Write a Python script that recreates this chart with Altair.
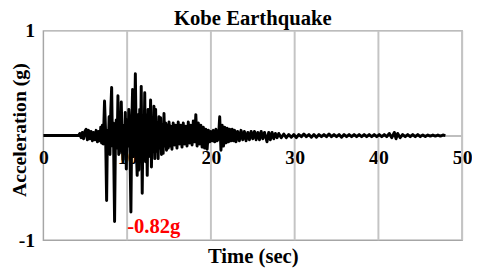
import altair as alt
import pandas as pd

# Ground acceleration record (time in s, acceleration in g)
time_sec = [
    0.0, 4.2, 4.35, 4.5, 4.65, 4.8, 4.95, 5.1, 5.25, 5.4,
    5.55, 5.7, 5.85, 6.0, 6.15, 6.3, 6.45, 6.6, 6.75, 6.85,
    6.95, 7.05, 7.15, 7.3, 7.42, 7.55, 7.65, 7.75, 7.85, 7.95,
    8.05, 8.15, 8.25, 8.35, 8.5, 8.6, 8.7, 8.8, 8.9, 9.0,
    9.1, 9.2, 9.3, 9.4, 9.5, 9.6, 9.7, 9.78, 9.9, 10.0,
    10.1, 10.2, 10.3, 10.45, 10.55, 10.65, 10.75, 10.85, 10.98, 11.1,
    11.2, 11.3, 11.4, 11.5, 11.6, 11.68, 11.8, 11.9, 12.0, 12.1,
    12.2, 12.3, 12.4, 12.5, 12.6, 12.7, 12.8, 12.9, 13.0, 13.1,
    13.2, 13.3, 13.4, 13.5, 13.6, 13.7, 13.8, 13.9, 14.0, 14.1,
    14.2, 14.3, 14.4, 14.5, 14.6, 14.7, 14.8, 14.9, 15.0, 15.1,
    15.2, 15.35, 15.5, 15.65, 15.8, 15.95, 16.1, 16.25, 16.4, 16.55,
    16.7, 16.85, 17.0, 17.15, 17.3, 17.45, 17.6, 17.75, 17.9, 18.05,
    18.2, 18.35, 18.5, 18.65, 18.8, 18.95, 19.1, 19.25, 19.4, 19.55,
    19.7, 19.85, 20.0, 20.15, 20.3, 20.45, 20.6, 20.75, 20.9, 21.05,
    21.2, 21.35, 21.5, 21.65, 21.8, 21.95, 22.1, 22.25, 22.4, 22.55,
    22.7, 22.85, 23.0, 23.2, 23.4, 23.6, 23.8, 24.0, 24.2, 24.4,
    24.6, 24.8, 25.0, 25.2, 25.4, 25.6, 25.8, 26.0, 26.2, 26.4,
    26.7, 26.9, 27.1, 27.3, 27.5, 27.7, 27.9, 28.1, 28.4, 28.7,
    29.0, 29.3, 29.6, 29.9, 30.2, 30.5, 30.8, 31.1, 31.4, 31.7,
    32.0, 32.3, 32.6, 32.9, 33.2, 33.5, 33.8, 34.1, 34.4, 34.7,
    35.0, 35.3, 35.6, 35.9, 36.2, 36.5, 36.8, 37.1, 37.4, 37.7,
    38.0, 38.3, 38.6, 38.9, 39.2, 39.5, 39.8, 40.1, 40.4, 40.7,
    41.0, 41.3, 41.6, 41.9, 42.1, 42.3, 42.6, 42.9, 43.2, 43.5,
    43.8, 44.1, 44.4, 44.7, 45.0, 45.3, 45.6, 45.9, 46.2, 46.5,
    46.8, 47.1, 47.4, 47.7, 48.0,
]
accel_g = [
    0.0, 0.0, 0.02, -0.02, 0.03, -0.03, 0.04, 0.06, -0.04, 0.05,
    -0.03, 0.04, -0.05, 0.03, -0.04, 0.05, -0.06, 0.04, -0.05, 0.08,
    -0.07, 0.1, -0.08, 0.33, 0.05, -0.62, 0.05, -0.12, 0.18, -0.18,
    0.25, 0.46, -0.1, 0.12, -0.82, -0.05, 0.15, -0.12, 0.38, -0.18,
    0.12, -0.15, 0.32, -0.05, -0.23, 0.1, -0.1, 0.22, -0.32, 0.15,
    -0.1, 0.25, 0.05, -0.73, 0.1, 0.44, -0.2, -0.1, 0.59, -0.15,
    -0.38, 0.2, -0.33, 0.25, -0.1, 0.47, -0.55, 0.15, -0.2, 0.41,
    -0.25, 0.2, -0.38, 0.25, -0.2, -0.05, 0.34, -0.3, 0.15, -0.15,
    0.28, -0.22, 0.25, -0.15, 0.12, -0.22, 0.18, -0.12, 0.17, -0.18,
    0.1, -0.17, 0.21, -0.1, 0.12, -0.14, 0.1, -0.12, 0.13, -0.1,
    0.09, -0.13, 0.12, -0.09, 0.1, -0.12, 0.13, -0.08, 0.1, -0.11,
    0.12, -0.08, 0.09, -0.1, 0.13, -0.07, 0.1, -0.09, 0.14, -0.06,
    0.2, -0.1, 0.12, -0.08, 0.1, -0.11, 0.08, -0.12, 0.06, -0.13,
    0.05, -0.06, 0.04, -0.05, 0.05, -0.06, 0.06, -0.05, -0.03, 0.18,
    -0.14, 0.1, -0.1, 0.08, -0.07, 0.07, -0.06, 0.06, -0.05, 0.06,
    -0.05, 0.05, -0.06, 0.04, -0.05, 0.05, -0.04, 0.04, -0.05, 0.03,
    -0.04, 0.04, -0.03, 0.04, -0.04, 0.03, -0.04, 0.04, -0.03, 0.03,
    -0.06, 0.03, -0.04, 0.03, -0.03, 0.02, -0.02, 0.02, -0.02, 0.015,
    -0.02, 0.01, -0.015, 0.01, -0.02, 0.01, -0.01, 0.015, -0.01, 0.01,
    -0.015, 0.01, -0.015, 0.01, -0.01, 0.01, -0.01, 0.015, -0.01, 0.01,
    -0.01, 0.01, -0.015, 0.01, -0.01, 0.01, -0.01, 0.01, -0.01, 0.01,
    -0.01, 0.01, -0.01, 0.01, -0.01, 0.01, -0.01, 0.01, -0.01, 0.01,
    -0.01, 0.02, -0.02, 0.03, -0.03, 0.02, -0.02, 0.01, -0.01, 0.01,
    -0.01, 0.01, -0.01, 0.01, -0.01, 0.005, -0.01, 0.005, -0.005, 0.005,
    -0.005, 0.005, -0.005, 0.005, 0.0,
]

x_ticks = [0, 10, 20, 30, 40, 50]
grid_sec = [10, 20, 30, 40, 50]
y_ticks = [-1, 0, 1]

chart_title = ["Kobe Earthquake"]
peak_label = ["-0.82g"]
peak_time = [10.0]
peak_accel = [-0.87]

df = pd.DataFrame({"t": time_sec, "a": accel_g})
grid_df = pd.DataFrame({"t": grid_sec})
ann_df = pd.DataFrame({"t": peak_time, "a": peak_accel, "label": peak_label})
title_df = pd.DataFrame({"label": chart_title})

FONT = "Liberation Serif"
W, H = 426, 213

x_scale = alt.Scale(domain=[0, 50], nice=False, zero=False)
y_scale = alt.Scale(domain=[-1, 1], nice=False)

x_axis = alt.Axis(
    values=x_ticks, offset=-H / 2, grid=False, ticks=False,
    domainColor="#bfbfbf", domainWidth=2,
    labelFont=FONT, labelFontSize=20, labelFontWeight="bold", labelColor="black",
    labelPadding=12, labelFlush=False, format="d",
    title="Time (sec)", titleFont=FONT, titleFontSize=21, titleFontWeight="bold",
    titleColor="black", titleY=123.5, titleBaseline="middle",
)
y_axis = alt.Axis(
    values=y_ticks, grid=False, ticks=False, domain=False,
    labelFont=FONT, labelFontSize=20, labelFontWeight="bold", labelColor="black",
    labelPadding=9, format="d", labelExpr="replace(datum.label, '\u2212', '-')",
    title="Acceleration (g)", titleFont=FONT, titleFontSize=20, titleFontWeight="bold",
    titleColor="black", titleX=-24, titleY=100.5, titleAngle=-90,
    titleAlign="center", titleBaseline="middle",
)

X = alt.X("t:Q", scale=x_scale, axis=x_axis)
Y = alt.Y("a:Q", scale=y_scale, axis=y_axis)

grid = alt.Chart(grid_df).mark_rule(color="#c4c4c4", strokeWidth=2).encode(x=X)

line = alt.Chart(df).mark_line(
    color="black", strokeWidth=3, strokeJoin="round"
).encode(x=X, y=Y)

ann = alt.Chart(ann_df).mark_text(
    align="left", baseline="middle", color="#ff0000",
    font=FONT, fontSize=21, fontWeight="bold",
).encode(x=X, y=Y, text="label:N")

title = alt.Chart(title_df).mark_text(
    align="center", baseline="alphabetic", color="black",
    font=FONT, fontSize=21, fontWeight="bold",
).encode(x=alt.value(W / 2), y=alt.value(-6), text="label:N")

chart = alt.layer(grid, line, ann, title).properties(
    width=W, height=H,
    autosize=alt.AutoSizeParams(type="none"),
    padding={"left": 36, "top": 21, "right": 10, "bottom": 30},
).configure_view(stroke="#a6a6a6", strokeWidth=1.5)

chart.save("out.html", embed_options={"renderer": "svg", "actions": False})
